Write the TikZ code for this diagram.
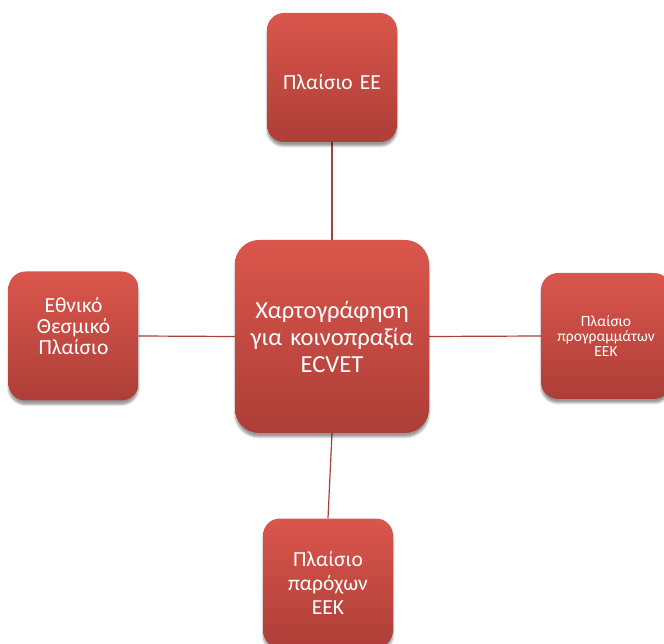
\documentclass[tikz,border=0pt]{standalone}
\usepackage{fontspec}
\setmainfont{Carlito}
\usetikzlibrary{shapes,backgrounds,calc,shadows.blur}

\definecolor{boxtop}{HTML}{DA564C}
\definecolor{boxbottom}{HTML}{AD3E37}
\definecolor{linkred}{HTML}{A5403B}

\tikzset{
	redbox/.style={rectangle, rounded corners=17pt, top color=boxtop, bottom color=boxbottom,
		text=white, align=center, inner sep=2pt,
		blur shadow={shadow xshift=0pt, shadow yshift=-4pt, shadow blur steps=6, shadow opacity=40}},
	smallbox/.style={redbox, minimum width=130pt, minimum height=129pt, text width=124pt},
	link/.style={draw=linkred, line width=1.2pt}
}

\begin{document}
\begin{tikzpicture}[x=1pt,y=1pt]
		\useasboundingbox (0,0) rectangle (664,643);
		
		\node [redbox, rounded corners=24pt, minimum width=194pt, minimum height=193pt, text width=186pt,
			font=\fontsize{24.5}{27}\selectfont] (mapping) at (332,306.5)
			{Χαρτογράφηση\\για κοινοπραξία\\ECVET};
		
		\node [smallbox, text height=24pt, font=\fontsize{21.5}{21}\selectfont] (eu) at (332,565.5) {Πλαίσιο ΕΕ};
		
		\node [smallbox, text depth=63pt, font=\fontsize{21.5}{21}\selectfont] (national) at (73.5,307)
			{Εθνικό\\Θεσμικό\\Πλαίσιο};
		
		\node [smallbox, minimum height=126pt, font=\fontsize{15.5}{15}\selectfont] (programmes) at (606,307)
			{Πλαίσιο\\προγραμμάτων\\ΕΕΚ};
		
		\node [smallbox, font=\fontsize{21.5}{24}\selectfont] (providers) at (328,60)
			{Πλαίσιο\\παρόχων\\ΕΕΚ};
		
		\begin{scope}[on background layer]
			\draw [link] (eu.south) -- (mapping.north);
			\draw [link] (national.east) -- (mapping.west);
			\draw [link] (mapping.east) -- (programmes.west);
			\draw [link] (mapping.south) -- (providers.north);
		\end{scope}
	\end{tikzpicture}
\end{document}
